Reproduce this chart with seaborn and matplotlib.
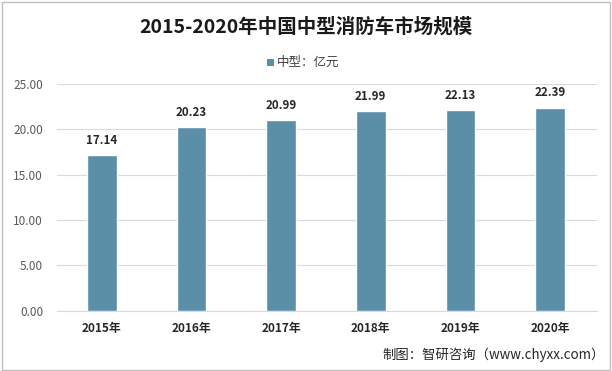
import matplotlib
matplotlib.use("Agg")
import matplotlib.pyplot as plt
import seaborn as sns
import pandas as pd
from matplotlib.patches import Rectangle

years = ["2015年", "2016年", "2017年", "2018年", "2019年", "2020年"]
values = [17.14, 20.23, 20.99, 21.99, 22.13, 22.39]
series_name = "中型：亿元"
title = "2015-2020年中国中型消防车市场规模"
source = "制图：智研咨询（www.chyxx.com）"
yticks = [0, 5, 10, 15, 20, 25]

sns.set_theme(style="white")
plt.rcParams['font.family'] = ['Noto Sans CJK SC', 'DejaVu Sans']

df = pd.DataFrame({"year": years, "value": values})
color = "#5B8FA8"

fig = plt.figure(figsize=(6.12, 3.71), dpi=100)
ax = fig.add_axes([0.093, 0.162, 0.882, 0.612])
sns.barplot(data=df, x="year", y="value", color=color, width=0.33, ax=ax, saturation=1)

ax.set_ylim(0, 25)
ax.set_xlim(-0.5, 5.52)
ax.set_yticks(yticks)
ax.set_yticklabels([f"{v:.2f}" for v in yticks], fontsize=8.5, color="#595959")
ax.set_xticks(range(len(years)))
ax.set_xticklabels(years, fontsize=8.5, fontweight="bold", color="#262626")
ax.tick_params(axis="both", length=0)
ax.tick_params(axis="y", pad=10)
ax.tick_params(axis="x", pad=8)
ax.set_xlabel("")
ax.set_ylabel("")
ax.grid(axis="y", color="#d9d9d9", linewidth=0.8)
ax.set_axisbelow(True)
for s in ["top", "right", "left"]:
    ax.spines[s].set_visible(False)
ax.spines["bottom"].set_color("#d9d9d9")
ax.spines["bottom"].set_linewidth(0.8)

for cont in ax.containers:
    ax.bar_label(cont, labels=[f"{v:.2f}" for v in values], padding=6,
                 fontsize=8.3, fontweight="bold", color="#262626")

fig.text(0.5, 0.928, title, ha="center", va="center", fontsize=14, fontweight="bold", color="#1a1a1a")
fig.patches.append(Rectangle((0.437, 0.822), 0.010, 0.018, transform=fig.transFigure,
                             facecolor=color, edgecolor="none"))
fig.text(0.452, 0.831, series_name, ha="left", va="center", fontsize=9, color="#404040")
fig.text(0.988, 0.045, source, ha="right", va="center", fontsize=9.6, color="#262626")

fig.patches.append(Rectangle((0.004, 0.004), 0.992, 0.99, transform=fig.transFigure,
                             facecolor="none", edgecolor="#bfbfbf", linewidth=1))

fig.savefig("out.png", dpi=100)
